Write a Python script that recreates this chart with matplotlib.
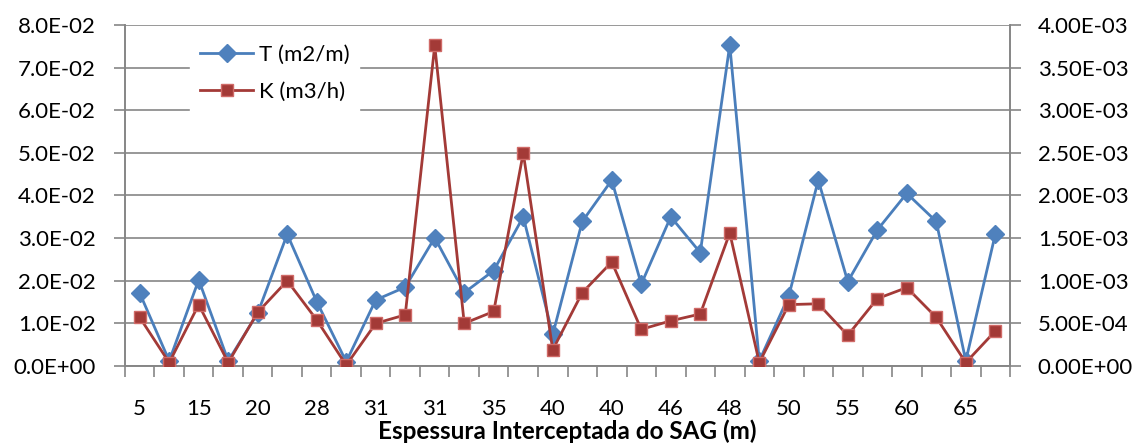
import matplotlib.pyplot as plt
import numpy as np

# espessura (m) - only every other label is shown on the chart
espessura = ['5', '10', '15', '18', '20', '25', '28', '30', '31', '31',
             '31', '33', '35', '38', '40', '40', '40', '45', '46', '47',
             '48', '49', '50', '52', '55', '58', '60', '62', '65', '68']

T = [0.0171, 0.0012, 0.0202, 0.0012, 0.0124, 0.0309, 0.0151, 0.0010, 0.0155, 0.0185,
     0.0301, 0.0172, 0.0224, 0.0350, 0.0074, 0.0339, 0.0436, 0.0192, 0.0350, 0.0266,
     0.0753, 0.0012, 0.0164, 0.0436, 0.0198, 0.0319, 0.0405, 0.0339, 0.0012, 0.0309]

K = [5.7e-4, 4.0e-5, 7.2e-4, 4.0e-5, 6.3e-4, 1.0e-3, 5.4e-4, 1.0e-5, 5.0e-4, 6.0e-4,
     3.76e-3, 5.0e-4, 6.4e-4, 2.50e-3, 1.9e-4, 8.6e-4, 1.22e-3, 4.3e-4, 5.3e-4, 6.1e-4,
     1.56e-3, 4.0e-5, 7.2e-4, 7.3e-4, 3.6e-4, 7.9e-4, 9.2e-4, 5.7e-4, 4.0e-5, 4.1e-4]

plt.rcParams['font.family'] = ['Lato', 'DejaVu Sans']

fig = plt.figure(figsize=(11.35, 4.43), dpi=100)
ax = fig.add_axes([0.1101, 0.1738, 0.7798, 0.7698])
ax2 = ax.twinx()

x = np.arange(len(espessura))

ax.plot(x, T, color='#4A7EBB', lw=2, marker='D', ms=9, mfc='#4F81BD',
        mec='#4F81BD', label='T (m2/m)', zorder=3)
ax2.plot(x, K, color='#A33A37', lw=2, marker='s', ms=9, mfc='#A33A37',
         mec='#D06A67', mew=1, label='K (m3/h)', zorder=3)

ax.set_xlim(-0.5, len(espessura) - 0.5)
ax.set_ylim(0, 0.08)
ax2.set_ylim(0, 0.004)

ax.set_yticks(np.arange(0, 0.081, 0.01))
ax.set_yticklabels(['%.1E' % v for v in np.arange(0, 0.081, 0.01)])
ax2.set_yticks(np.arange(0, 0.00401, 0.0005))
ax2.set_yticklabels(['%.2E' % v for v in np.arange(0, 0.00401, 0.0005)])

ax.set_xticks(np.arange(-0.5, len(espessura), 1))
ax.set_xticklabels([])
ax.set_xticks(x[::2], minor=True)
ax.set_xticklabels(espessura[::2], minor=True)
ax.tick_params(axis='x', which='major', length=8, width=1.2, color='#868686', direction='out')
ax.tick_params(axis='x', which='minor', length=0, pad=24, labelsize=16)
ax.tick_params(axis='y', length=8, width=1.2, color='#868686', labelsize=16, pad=13)
ax2.tick_params(axis='y', length=8, width=1.2, color='#868686', labelsize=16, pad=12)

ax.grid(axis='y', color='#868686', lw=1.2)
ax.set_axisbelow(True)
for a in (ax, ax2):
    a.spines['top'].set_visible(False)
    for s in ('left', 'right', 'bottom'):
        a.spines[s].set_color('#868686')
        a.spines[s].set_linewidth(1.2)

ax.set_xlabel('Espessura Interceptada do SAG (m)', fontsize=17.5, fontweight='bold', labelpad=0)

h1, l1 = ax.get_legend_handles_labels()
h2, l2 = ax2.get_legend_handles_labels()
leg = ax2.legend(h1 + h2, l1 + l2, loc='upper left', bbox_to_anchor=(0.0734, 0.9707),
                 frameon=True, fontsize=16, handlelength=2.4, labelspacing=0.75,
                 borderpad=0.45, handletextpad=0.25, borderaxespad=0)
leg.get_frame().set_edgecolor('white')
leg.get_frame().set_alpha(1)
leg.get_frame().set_boxstyle('square', pad=0)

fig.savefig('out.png', dpi=100)
